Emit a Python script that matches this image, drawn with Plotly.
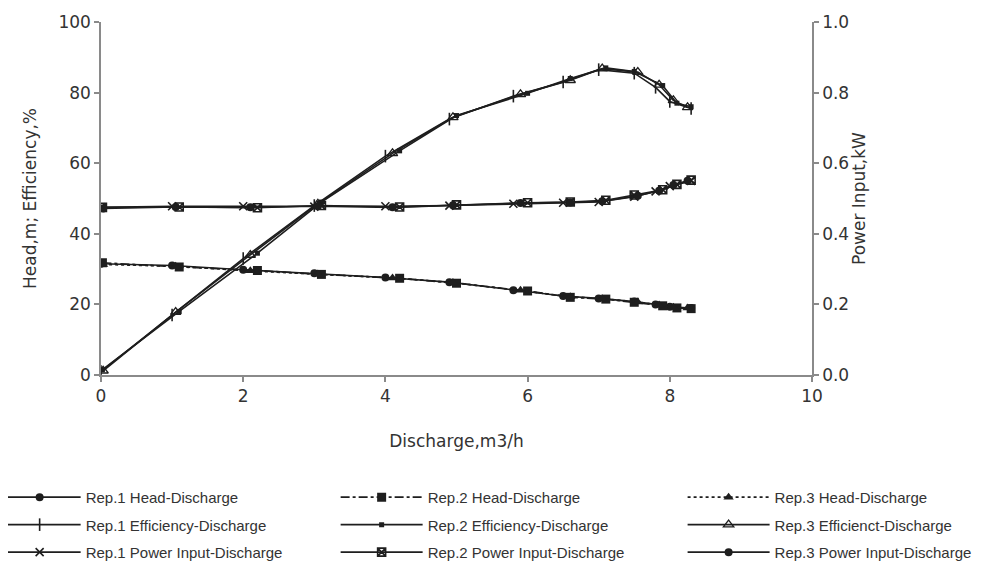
import plotly.graph_objects as go

# Discharge (m3/h) for each replicate
q_rep1 = [0.0, 1.0, 2.0, 3.0, 4.0, 4.9, 5.8, 6.5, 7.0, 7.5, 7.8, 8.0, 8.3]
q_rep2 = [0.02, 1.1, 2.2, 3.1, 4.2, 5.0, 6.0, 6.6, 7.1, 7.5, 7.9, 8.1, 8.3]
q_rep3 = [0.03, 1.05, 2.1, 3.05, 4.1, 4.95, 5.9, 6.6, 7.05, 7.55, 7.85, 8.05, 8.25]

# Head (m)
head_rep1 = [31.5, 31.0, 29.8, 28.8, 27.6, 26.3, 24.0, 22.4, 21.7, 20.8, 20.0, 19.3, 19.0]
head_rep2 = [31.8, 30.6, 29.6, 28.5, 27.4, 26.0, 23.8, 22.0, 21.5, 20.6, 19.6, 19.0, 18.8]
head_rep3 = [31.3, 30.8, 29.5, 28.6, 27.5, 26.2, 24.0, 22.2, 21.6, 20.7, 19.8, 19.2, 19.0]

# Efficiency (%)
eff_rep1 = [1.0, 17.0, 33.0, 48.0, 62.0, 72.5, 79.0, 83.0, 86.5, 85.5, 81.5, 77.5, 75.5]
eff_rep2 = [1.5, 18.0, 34.5, 49.0, 63.5, 73.5, 79.8, 84.0, 87.0, 86.0, 82.0, 77.0, 76.0]
eff_rep3 = [1.2, 17.8, 34.0, 48.5, 62.8, 73.0, 79.5, 83.5, 86.8, 85.8, 82.2, 77.8, 75.8]

# Power input (kW)
pow_rep1 = [0.475, 0.478, 0.478, 0.477, 0.478, 0.480, 0.485, 0.488, 0.490, 0.505, 0.520, 0.535, 0.550]
pow_rep2 = [0.475, 0.476, 0.474, 0.480, 0.476, 0.482, 0.488, 0.490, 0.495, 0.510, 0.525, 0.540, 0.552]
pow_rep3 = [0.472, 0.476, 0.475, 0.478, 0.475, 0.481, 0.487, 0.489, 0.492, 0.508, 0.522, 0.538, 0.550]

x_ticks = [0, 2, 4, 6, 8, 10]
y_ticks = [0, 20, 40, 60, 80, 100]
y2_ticks = [0.0, 0.2, 0.4, 0.6, 0.8, 1.0]

LC = "#1e1e1e"
fig = go.Figure()

def add(x, y, name, symbol, size, dash="solid", yaxis="y", legend="legend", mlw=0):
    marker = dict(symbol=symbol, size=size, color=LC,
                  line=dict(color=LC, width=mlw))
    fig.add_trace(go.Scatter(
        x=x, y=y, name=name, mode="lines+markers", yaxis=yaxis, legend=legend,
        legendgroup=name,
        line=dict(color=LC, width=1.6, dash=dash), marker=marker))

# column 1 (Rep.1)
add(q_rep1, head_rep1, "Rep.1 Head-Discharge", "circle", 8, legend="legend")
add(q_rep1, eff_rep1, "Rep.1 Efficiency-Discharge", "line-ns", 9, legend="legend", mlw=1.6)
add(q_rep1, pow_rep1, "Rep.1 Power Input-Discharge", "x-thin", 8, yaxis="y2", legend="legend", mlw=1.6)
# column 2 (Rep.2)
add(q_rep2, head_rep2, "Rep.2 Head-Discharge", "square", 9, dash="dashdot", legend="legend2")
add(q_rep2, eff_rep2, "Rep.2 Efficiency-Discharge", "square", 5, legend="legend2")
add(q_rep2, pow_rep2, "Rep.2 Power Input-Discharge", "square-x-open", 8, yaxis="y2", legend="legend2", mlw=1.6)
# column 3 (Rep.3)
add(q_rep3, head_rep3, "Rep.3 Head-Discharge", "triangle-up", 9, dash="dot", legend="legend3")
add(q_rep3, eff_rep3, "Rep.3 Efficienct-Discharge", "triangle-up-open", 9, legend="legend3", mlw=1.3)
add(q_rep3, pow_rep3, "Rep.3 Power Input-Discharge", "circle", 8, yaxis="y2", legend="legend3")

AX = "#8a8a8a"
TF = dict(family="DejaVu Sans", size=17, color="#333333")
common = dict(showgrid=False, zeroline=False, showline=True, linecolor=AX, linewidth=1.5,
              ticks="outside", tickcolor=AX, ticklen=5, tickwidth=1.5, tickfont=TF)

leg_common = dict(orientation="v", xanchor="left", yanchor="top",
                  font=dict(family="Liberation Sans", size=15, color="#333333"),
                  itemwidth=82, bgcolor="rgba(0,0,0,0)",
                  traceorder="grouped", tracegroupgap=5, itemclick=False)

LY = -0.300
fig.update_layout(
    width=973, height=553,
    margin=dict(l=93, r=169, t=14, b=186, autoexpand=False),
    paper_bgcolor="white", plot_bgcolor="white",
    xaxis=dict(range=[0, 10], tickvals=x_ticks, ticktext=[str(v) for v in x_ticks],
               title=dict(text="Discharge,m3/h", font=TF, standoff=30), **common),
    yaxis=dict(range=[0, 100], tickvals=y_ticks, ticktext=[str(v) for v in y_ticks],
               title=dict(text="Head,m; Efficiency,%", font=TF, standoff=17), **common),
    yaxis2=dict(range=[0, 1], overlaying="y", side="right", tickvals=y2_ticks,
                ticktext=[f"{v:.1f}" for v in y2_ticks],
                title=dict(text="Power Input,kW", font=TF, standoff=0), **common),
    legend=dict(x=-0.151, y=LY, **leg_common),
    legend2=dict(x=0.330, y=LY, **leg_common),
    legend3=dict(x=0.818, y=LY, **leg_common),
)

fig.write_html("out.html")
